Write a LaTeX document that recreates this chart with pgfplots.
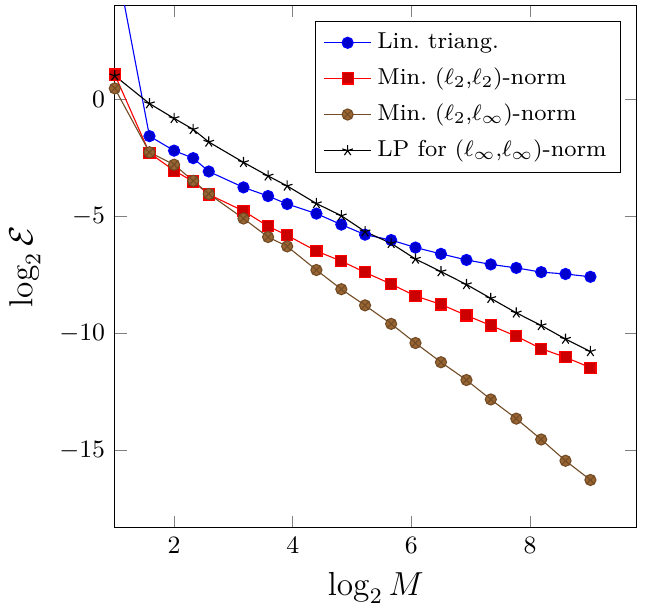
\documentclass[border=0pt]{standalone}
\usepackage{pgfplots}
\pgfplotsset{compat=1.18}
\begin{document}
\begin{tikzpicture}
\begin{axis}[
  scale only axis,
  width=188pt, height=188pt,
  xmin=1, xmax=9.8,
  ymin=-18.3, ymax=4,
  xtick={2,4,6,8},
  ytick={0,-5,-10,-15},
  tick label style={font=\small},
  label style={font=\fontsize{11.5}{13}\selectfont},
  xlabel={$\log_2 M$},
  ylabel={$\log_2 \mathcal{E}$},
  legend pos=north east,
  legend cell align=left,
  legend style={font=\fontsize{8.3}{10}\selectfont, row sep=1.5pt},
]
% Lin. triang.
\addplot coordinates {
 (1,6.2) (1.585,-1.58) (2,-2.20) (2.322,-2.52) (2.585,-3.09) (3.17,-3.77)
 (3.585,-4.14) (3.907,-4.48) (4.40,-4.89) (4.82,-5.36) (5.22,-5.79)
 (5.66,-6.02) (6.07,-6.34) (6.50,-6.61) (6.93,-6.87) (7.34,-7.06)
 (7.77,-7.21) (8.19,-7.39) (8.60,-7.47) (9.02,-7.59)
};
% Min. (l2,l2)
\addplot coordinates {
 (1,1.05) (1.585,-2.30) (2,-3.05) (2.322,-3.52) (2.585,-4.07) (3.17,-4.78)
 (3.585,-5.43) (3.907,-5.82) (4.40,-6.49) (4.82,-6.92) (5.22,-7.40)
 (5.66,-7.90) (6.07,-8.41) (6.50,-8.77) (6.93,-9.24) (7.34,-9.67)
 (7.77,-10.13) (8.19,-10.66) (8.60,-11.03) (9.02,-11.47)
};
% Min. (l2,linf)
\addplot coordinates {
 (1,0.46) (1.585,-2.27) (2,-2.80) (2.322,-3.49) (2.585,-4.05) (3.17,-5.10)
 (3.585,-5.89) (3.907,-6.29) (4.40,-7.30) (4.82,-8.12) (5.22,-8.81)
 (5.66,-9.60) (6.07,-10.42) (6.50,-11.24) (6.93,-12.00) (7.34,-12.83)
 (7.77,-13.65) (8.19,-14.54) (8.60,-15.45) (9.02,-16.27)
};
% LP (linf,linf)
\addplot coordinates {
 (1,1.00) (1.585,-0.19) (2,-0.82) (2.322,-1.29) (2.585,-1.83) (3.17,-2.70)
 (3.585,-3.28) (3.907,-3.71) (4.40,-4.46) (4.82,-4.98) (5.22,-5.66)
 (5.66,-6.16) (6.07,-6.83) (6.50,-7.37) (6.93,-7.92) (7.34,-8.51)
 (7.77,-9.13) (8.19,-9.67) (8.60,-10.25) (9.02,-10.78)
};
\legend{Lin.\ triang., {Min.\ $(\ell_2,\!\ell_2)$-norm}, {Min.\ $(\ell_2,\!\ell_\infty)$-norm}, {LP for $(\ell_\infty,\!\ell_\infty)$-norm}}
\end{axis}
\path (current axis.north east) ++(3pt,2pt) coordinate (padright);
\end{tikzpicture}
\end{document}
